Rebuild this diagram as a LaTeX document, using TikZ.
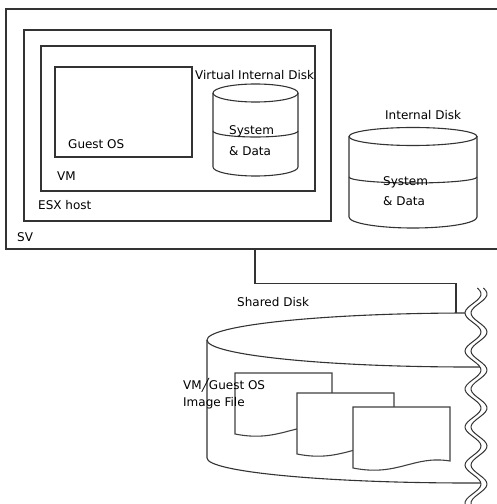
\documentclass[tikz,border=0pt]{standalone}
\usepackage{fontspec}
\setmainfont{DejaVu Sans}

\begin{document}
\begin{tikzpicture}[x=1bp, y=-1bp,
    box/.style={draw=black!80, line width=1.1bp, inner sep=0pt},
    disk/.style={draw=black!80, line width=1.1bp},
    page/.style={draw=black!75, line width=1.1bp, fill=white},
    lbl/.style={anchor=west, inner sep=0pt, font=\fontsize{12bp}{14bp}\selectfont}]
    \useasboundingbox (0,0) rectangle (497,504);
    \clip (0,0) rectangle (497,504);

    % Boxes
    \node[box, minimum width=504bp, minimum height=240bp] (sv) at (258,129) {};
    \node[box, minimum width=307bp, minimum height=191bp] (esx) at (177.5,125.5) {};
    \node[box, minimum width=274bp, minimum height=145bp] (vm) at (178,118.5) {};
    \node[box, minimum width=137bp, minimum height=90bp] (guest) at (123.5,112) {};

    \node[lbl] (lblguest) at (68,144) {Guest OS};
    \node[lbl] (lblvm) at (57,176) {VM};
    \node[lbl] (lblesx) at (38,205) {ESX host};
    \node[lbl] (lblsv) at (17,237) {SV};

    % Virtual internal disk
    \draw[disk] (213,93) -- (213,167) arc[start angle=180, end angle=0, x radius=42.5, y radius=9] -- (298,93);
    \draw[disk] (255.5,93) ellipse[x radius=42.5, y radius=9];
    \draw[disk] (213,131) arc[start angle=180, end angle=0, x radius=42.5, y radius=6];
    \node[lbl] (lblvdisk) at (195,75) {Virtual Internal Disk};
    \node[lbl] (lblvsys) at (229,131) {System};
    \node[lbl] (lblvdata) at (229,151) {\& Data};

    % Internal disk
    \draw[disk] (349,136.5) -- (349,217) arc[start angle=180, end angle=0, x radius=64, y radius=11] -- (477,136.5);
    \draw[disk] (413,136.5) ellipse[x radius=64, y radius=9];
    \draw[disk] (349,177) arc[start angle=180, end angle=0, x radius=64, y radius=6];
    \node[lbl] (lblidisk) at (385,115) {Internal Disk};
    \node[lbl] (lblisys) at (383,182) {System};
    \node[lbl] (lblidata) at (383,201) {\& Data};

    % Shared disk
    \draw[disk] (470,340) ellipse[x radius=263, y radius=27];
    \draw[disk] (207,340) -- (207,458) arc[start angle=180, end angle=0, x radius=263, y radius=25];
    \coordinate (sdtop) at (456,313);
    \node[lbl] (lblshared) at (237,302) {Shared Disk};

    % Connection
    \draw[disk] ([xshift=-3bp]sv.south) -- ++(0,34) -| (sdtop);

    % Image files
    \foreach \px/\py in {235/373, 297/393, 353/407}
        \draw[page] (\px,\py) -- (\px+97,\py) -- (\px+97,\py+54)
            .. controls (\px+60,\py+48) and (\px+45,\py+70) .. (\px,\py+61) -- cycle;
    \node[lbl] (lblimage) at (183,385) {VM╱Guest OS};
    \node[lbl] (lblimagefile) at (183,403) {Image File};

    % Break
    \fill[white] plot[domain=288:504, samples=90, variable=\t] ({473-8*cos((\t-313)*9.47)}, \t)
        -- (497,504) -- (497,288) -- cycle;
    \draw[disk, line width=1bp] plot[domain=288:504, samples=90, variable=\t] ({473-8*cos((\t-313)*9.47)}, \t);
    \draw[disk, line width=1bp] plot[domain=288:504, samples=90, variable=\t] ({479-8*cos((\t-313)*9.47)}, \t);
\end{tikzpicture}
\end{document}
